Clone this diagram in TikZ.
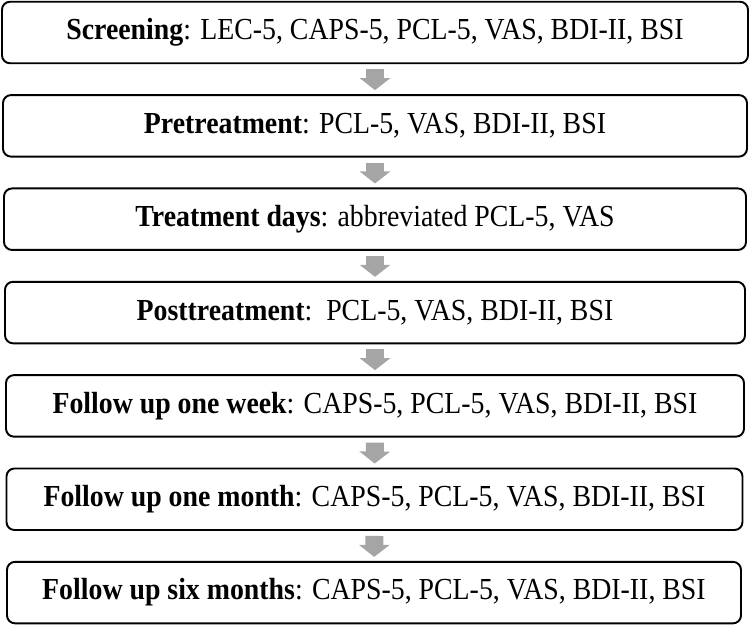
\documentclass[tikz,border=0pt]{standalone}
\usepackage{fontspec}
\setmainfont{Liberation Serif}[FakeStretch=0.91]
\usepackage{tikz}
\usetikzlibrary{arrows.meta}
\definecolor{ArrowGray}{RGB}{165,165,165}

\begin{document}
\begin{tikzpicture}[
		stage/.style={draw, line width=1.1pt, rounded corners=0.16cm, minimum width=14.84cm, minimum height=1.23cm, inner sep=0pt, font=\fontsize{17.4}{20}\selectfont},
		flowarrow/.style={ArrowGray, line width=0.36cm, -{Triangle[width=0.6cm, length=0.24cm]}, shorten <=0.1cm, shorten >=0.08cm}
	]
		\useasboundingbox (0, 0) rectangle (15, -12.52);
		
		\node[stage, minimum width=14.92cm] (Screening) at (7.5, -0.65) {\textbf{Screening}: LEC-5, CAPS-5, PCL-5, VAS, BDI-II, BSI};
		\node[stage, minimum width=14.88cm] (PreTreat) at (7.5, -2.517) {\textbf{Pretreatment}: PCL-5, VAS, BDI-II, BSI};
		\node[stage, minimum width=14.84cm] (TreatDays) at (7.5, -4.384) {\textbf{Treatment days}: abbreviated PCL-5, VAS};
		\node[stage, minimum width=14.80cm] (PostTreat) at (7.5, -6.251) {\textbf{Posttreatment}:\ \ PCL-5, VAS, BDI-II, BSI};
		\node[stage, minimum width=14.76cm] (FollowWeek) at (7.5, -8.118) {\textbf{Follow up one week}: CAPS-5, PCL-5, VAS, BDI-II, BSI};
		\node[stage, minimum width=14.72cm] (FollowMonth) at (7.49, -9.985) {\textbf{Follow up one month}: CAPS-5, PCL-5, VAS, BDI-II, BSI};
		\node[stage, minimum width=14.68cm] (FollowSix) at (7.48, -11.852) {\textbf{Follow up six months}: CAPS-5, PCL-5, VAS, BDI-II, BSI};
		
		\draw[flowarrow] (Screening) -- (PreTreat);
		\draw[flowarrow] (PreTreat) -- (TreatDays);
		\draw[flowarrow] (TreatDays) -- (PostTreat);
		\draw[flowarrow] (PostTreat) -- (FollowWeek);
		\draw[flowarrow] (FollowWeek) -- (FollowMonth);
		\draw[flowarrow] (FollowMonth) -- (FollowSix);
	\end{tikzpicture}
\end{document}
